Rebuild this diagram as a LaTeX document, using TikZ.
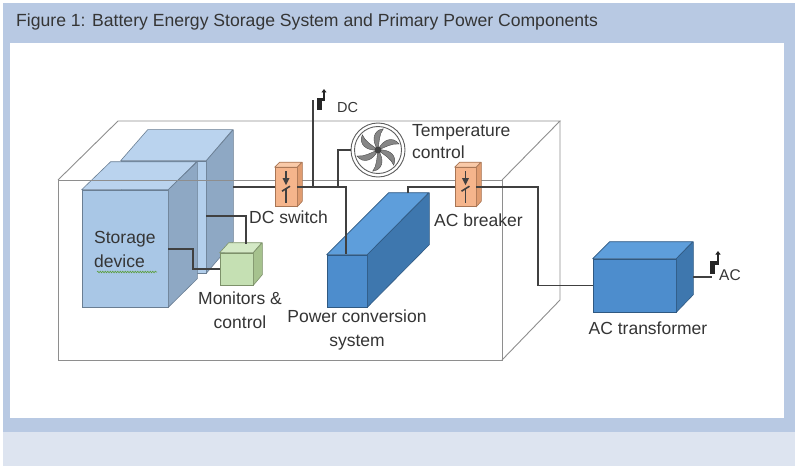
\documentclass[tikz,border=0pt]{standalone}
\usepackage{fontspec}
\setmainfont{Liberation Sans}
\usetikzlibrary{decorations.pathmorphing,arrows.meta}
\definecolor{framebl}{HTML}{B8C9E3}
\definecolor{bandbl}{HTML}{DDE4F0}
\definecolor{encl}{HTML}{8E8E8E}
\definecolor{wirec}{HTML}{404040}
\definecolor{txt}{HTML}{353535}
\definecolor{sdF}{HTML}{A9C7E6}
\definecolor{sdT}{HTML}{BAD3EE}
\definecolor{sdS}{HTML}{8EA8C4}
\definecolor{sdB}{HTML}{B3CFEC}
\definecolor{gnF}{HTML}{C5E0B3}
\definecolor{gnT}{HTML}{D4E9C6}
\definecolor{gnS}{HTML}{A6C28E}
\definecolor{orF}{HTML}{F5B58C}
\definecolor{orT}{HTML}{F9CAA9}
\definecolor{orS}{HTML}{E09C70}
\definecolor{dbF}{HTML}{4D8DCD}
\definecolor{dbT}{HTML}{5E9EDB}
\definecolor{dbS}{HTML}{3E77AE}
\definecolor{fanc}{HTML}{5E5E5E}
\definecolor{squig}{HTML}{5A9E3A}
% #1 name, #2 centre, #3 width, #4 height, #5 dx, #6 dy (up), #7 front, #8 top, #9 side
\newcommand{\solidbox}[9]{%
  \node[draw=#9!75!black, fill=#7, minimum width=#3pt, minimum height=#4pt,
        inner sep=0pt, line width=0.6pt] (#1) at (#2) {};
  \filldraw[draw=#9!75!black, fill=#8, line width=0.6pt, line join=round]
    (#1.north west) -- ++(#5,-#6) -- ++(#3,0) -- (#1.north east) -- cycle;
  \filldraw[draw=#9!75!black, fill=#9, line width=0.6pt, line join=round]
    (#1.north east) -- ++(#5,-#6) -- ++(0,#4) -- (#1.south east) -- cycle;
}
\newcommand{\switchsym}[1]{%
  \draw[wirec, line width=1.5pt] ([yshift=-4pt]#1.north) -- ([yshift=-13pt]#1.north);
  \fill[wirec] ([xshift=-3.5pt,yshift=-11pt]#1.north) -- ([xshift=3.5pt,yshift=-11pt]#1.north) -- ([yshift=-18pt]#1.north) -- cycle;
  \draw[wirec, line width=1.6pt] ([xshift=-4pt,yshift=-24pt]#1.north) -- ([xshift=4pt,yshift=-19pt]#1.north);
  \draw[wirec, line width=1.5pt] ([yshift=-21pt]#1.north) -- ([yshift=4pt]#1.south);
}
\tikzset{
  wire/.style={draw=wirec, line width=1.4pt, line join=miter},
  enc/.style={draw=encl, line width=0.9pt},
  lbl/.style={text=txt, inner sep=0pt, font=\fontsize{17.5}{24}\selectfont},
}
\begin{document}
\begin{tikzpicture}[x=1pt, y=-1pt]
\useasboundingbox (0,0) rectangle (800,468);
% frame
\fill[white] (0,0) rectangle (800,468);
\fill[framebl] (3,3) rectangle (795,432);
\fill[bandbl] (3,432) rectangle (795,466);
\fill[white] (10,43) rectangle (784,418);
\node[anchor=west, text=txt, inner sep=0pt, font=\fontsize{17.6}{20}\selectfont] (title) at (16,22)
  {Figure 1: Battery Energy Storage System and Primary Power Components};

% enclosure back/top/right
\coordinate (e1) at (58,180); \coordinate (e2) at (502,180);
\coordinate (e3) at (502,360); \coordinate (e4) at (58,360);
\coordinate (e5) at (118,121); \coordinate (e6) at (560,121);
\coordinate (e7) at (560,300);
\draw[enc] (e1) -- (e5) -- (e6) -- (e2);
\draw[enc] (e6) -- (e7) -- (e3);
\draw[enc] (e2) -- (e3) -- (e4) -- (e1);

% storage devices
\solidbox{sdb}{163.5,217}{85}{112}{27}{31}{sdB}{sdT}{sdS}
\solidbox{sdf}{125,248.5}{86}{117}{29}{28}{sdF}{sdT}{sdS}
% front top edge of enclosure drawn across
\draw[enc] (e1) -- (e2);

% monitors & control
\solidbox{mc}{236.5,269}{33}{32}{9}{10}{gnF}{gnT}{gnS}

% PCS
\solidbox{pcs}{347,281}{40}{52}{62}{62}{dbF}{dbT}{dbS}
% transformer
\solidbox{tr}{634.5,285.5}{83}{53}{17}{17}{dbF}{dbT}{dbS}

% switches
\solidbox{sw}{286,187}{22}{39}{5}{5}{orF}{orT}{orS}
\switchsym{sw}
\solidbox{br}{465.5,187}{21}{39}{5}{5}{orF}{orT}{orS}
\switchsym{br}

% fan
\node[circle, draw=fanc, fill=white, line width=0.9pt, minimum size=54pt, inner sep=0pt] (fan) at (378,150) {};
\draw[fanc, line width=0.9pt] (fan.center) circle (23.5);
\begin{scope}[shift={(fan.center)}]
  \foreach \a in {0,60,...,300}{
    \filldraw[rotate=\a, draw=fanc!80!black, fill=fanc!75, line width=0.4pt]
      (0,0) .. controls (5,-11) and (15,-14) .. (21,-6)
            .. controls (14,-7) and (8,-3) .. (0,0) -- cycle;
  }
  \fill[fanc!70!black] (0,0) circle (3.5);
\end{scope}

% connection points
\coordinate (sdbR) at (233,187);
\coordinate (dcj) at (313,187);
\coordinate (dcT) at (313,100);
\coordinate (fanj) at (338,187);
\coordinate (pcsj) at (346,187);
\coordinate (pcsIn) at (346,254);
\coordinate (pcsOut) at (408,193);
\coordinate (acj) at (538,187);
\coordinate (trR) at (693,277);
\coordinate (acT) at (712,277);
\coordinate (sdbM) at (206,216);
\coordinate (mcTop) at (246,244);
\coordinate (sdfR) at (168,249);
\coordinate (sdfj) at (193,249);

% wires
\draw[wire] (sdbR) -- (sw.west);
\draw[wire] (sw.east) -- (pcsj) -- (pcsIn);
\draw[wire] (dcj) -- (dcT);
\draw[wire] (fanj) |- (fan.west);
\draw[wire] (pcsOut) |- (br.west);
\draw[wire] (br.east) -- (acj) |- (tr.west);
\draw[wire] (trR) -- (acT);
\draw[wire] (sdbM) -| (mcTop);
\draw[wire] (sdfR) -- (sdfj) |- (mc.west);

% DC symbol
\fill[black!85] (316.5,98) rectangle (321.5,110);
\fill[black!85] (321.5,98) rectangle (324.5,101.5);
\draw[black!85, line width=2pt, -{Triangle[length=3.5pt,width=5pt]}] (324,101.5) -- (324,89);
% AC symbol
\fill[black!85] (709.5,261) rectangle (715,274);
\fill[black!85] (715,261) rectangle (718.5,264.5);
\draw[black!85, line width=2.2pt, -{Triangle[length=3.5pt,width=5pt]}] (718,264.5) -- (718,251);

% labels
\node[lbl, anchor=west, align=left] (lsd) at (94,249.5) {Storage\\device};
\draw[squig, line width=0.6pt, decorate, decoration={snake, amplitude=0.8pt, segment length=2.5pt}] (97,272) -- (157,272);
\node[lbl, align=center] (lmc) at (240,310.5) {Monitors \&\\control};
\node[lbl, anchor=west] (lsw) at (249,217) {DC switch};
\node[lbl, anchor=west, align=left, font=\fontsize{17.5}{22}\selectfont] (ltc) at (412,142) {Temperature\\control};
\node[lbl, anchor=west] (lbr) at (434,220) {AC breaker};
\node[lbl, align=center] (lpcs) at (357,330) {Power conversion\\system};
\node[lbl] (ltr) at (648,328) {AC transformer};
\node[lbl, anchor=west, font=\fontsize{14.5}{16}\selectfont] (ldc) at (337,108) {DC};
\node[lbl, anchor=west, font=\fontsize{15.5}{17}\selectfont] (lac) at (719,275) {AC};
\end{tikzpicture}
\end{document}
